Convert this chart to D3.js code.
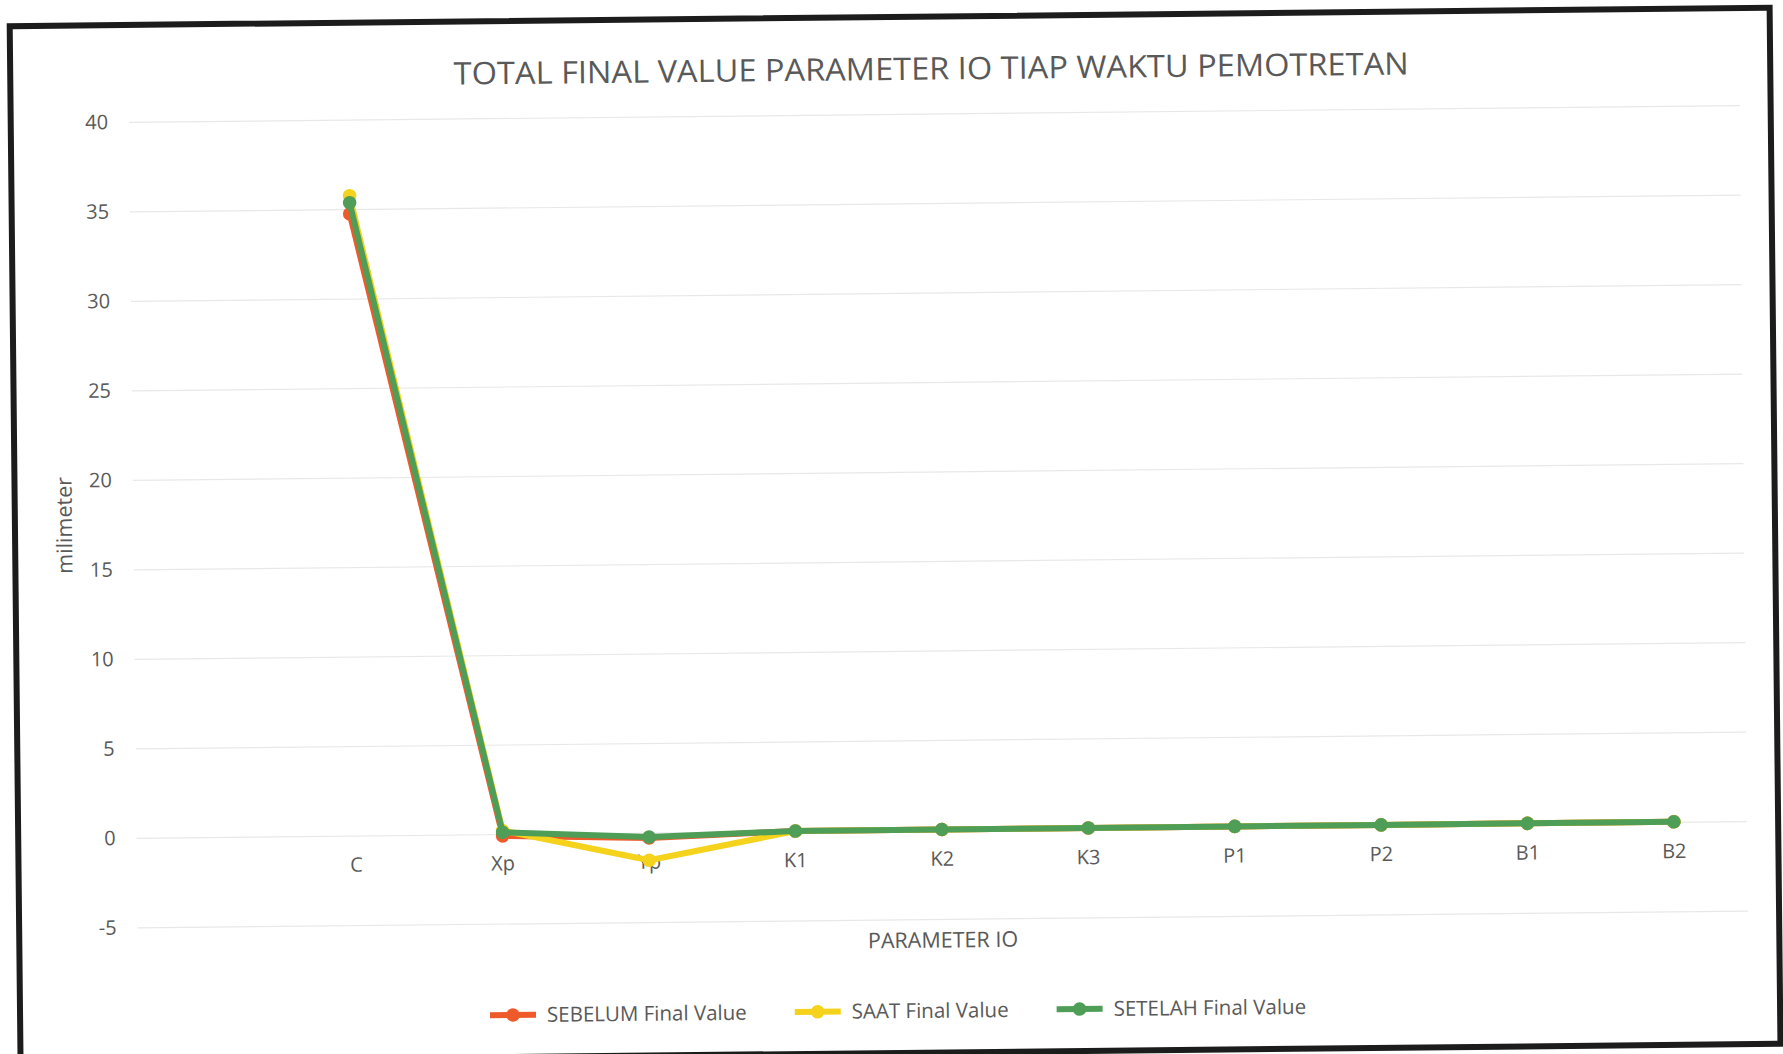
<!DOCTYPE html>
<html>
<head>
<meta charset="utf-8">
<script src="https://cdn.jsdelivr.net/npm/d3@7"></script>
<style>
  html, body { margin: 0; padding: 0; background: #ffffff; }
  svg { display: block; }
  text { font-family: "Open Sans", "Noto Sans", sans-serif; fill: #595959; }
</style>
</head>
<body>
<svg id="chart" width="1783" height="1054"></svg>
<script>
// Category slots on the horizontal axis (the first slot is left blank)
const categories = ["", "C", "Xp", "Yp", "K1", "K2", "K3", "P1", "P2", "B1", "B2"];

// Final values (millimetre) per interior-orientation parameter
const sebelum = [null, 34.74, -0.1, -0.3, 0, 0, 0, 0, 0, 0, 0];
const saat    = [null, 35.75, 0.2, -1.55, 0, 0, 0, 0, 0, 0, 0];
const setelah = [null, 35.36, 0.1, -0.25, 0, 0, 0, 0, 0, 0, 0];

const seriesNames = ["SEBELUM Final Value", "SAAT Final Value", "SETELAH Final Value"];
const seriesColors = ["#EE5A2A", "#F5D21C", "#4E9E57"];

const yTicks = [-5, 0, 5, 10, 15, 20, 25, 30, 35, 40];

const titleText = "TOTAL FINAL VALUE PARAMETER IO TIAP WAKTU PEMOTRETAN";
const xTitle = "PARAMETER IO";
const yTitle = "milimeter";

const W = 1783, H = 1054;
const plot = { left: 133.4, right: 1744, top: 114, bottom: 919.5 };

const svg = d3.select("#chart");
svg.append("rect").attr("width", W).attr("height", H).attr("fill", "#ffffff");

// whole sheet sits at a slight tilt
const root = svg.append("g").attr("transform", "rotate(-0.6, 891, 527)");

// outer frame
root.append("rect")
  .attr("x", 15).attr("y", 17).attr("width", 1760).attr("height", 1036)
  .attr("fill", "#ffffff").attr("stroke", "#1c1c1c").attr("stroke-width", 6);

const x = d3.scaleBand().domain(categories).range([plot.left, plot.right]);
const y = d3.scaleLinear().domain([-5, 40]).range([plot.bottom, plot.top]);

// horizontal gridlines
const grid = root.append("g").attr("transform", `translate(${plot.left},0)`)
  .call(d3.axisLeft(y).tickValues(yTicks).tickSize(-(plot.right - plot.left)).tickFormat(""));
grid.select(".domain").remove();
grid.selectAll(".tick line").attr("stroke", "#e8e8e8").attr("stroke-width", 1.2);

// value axis labels
const yAxis = root.append("g").attr("transform", `translate(${plot.left},0)`)
  .call(d3.axisLeft(y).tickValues(yTicks).tickSize(0).tickPadding(21).tickFormat(d => String(d)));
yAxis.select(".domain").remove();
yAxis.selectAll("text").attr("font-size", 20).attr("fill", "#595959")
  .style("font-family", '"Open Sans", sans-serif');

// category axis labels next to the zero line
const xAxis = root.append("g").attr("transform", `translate(0,${y(0)})`)
  .call(d3.axisBottom(x).tickSize(0).tickPadding(22));
xAxis.select(".domain").remove();
xAxis.selectAll("text").attr("font-size", 20).attr("fill", "#595959")
  .style("font-family", '"Open Sans", sans-serif');

// title
root.append("text")
  .attr("x", 936).attr("y", 80)
  .attr("text-anchor", "middle")
  .attr("font-size", 31)
  .attr("textLength", 955).attr("lengthAdjust", "spacingAndGlyphs")
  .text(titleText);

// axis titles
root.append("text")
  .attr("x", (plot.left + plot.right) / 2).attr("y", 948)
  .attr("text-anchor", "middle").attr("font-size", 21.5)
  .text(xTitle);

root.append("text")
  .attr("transform", `translate(72,${(plot.top + plot.bottom) / 2}) rotate(-90)`)
  .attr("text-anchor", "middle").attr("font-size", 21.5)
  .text(yTitle);

// series
const allSeries = [sebelum, saat, setelah];
const line = d3.line()
  .defined(d => d.v !== null)
  .x(d => x(d.c) + x.bandwidth() / 2)
  .y(d => y(d.v));

allSeries.forEach((vals, i) => {
  const pts = categories.map((c, k) => ({ c, v: vals[k] }));
  const g = root.append("g");
  g.append("path")
    .datum(pts)
    .attr("fill", "none")
    .attr("stroke", seriesColors[i])
    .attr("stroke-width", 6)
    .attr("stroke-linejoin", "round")
    .attr("stroke-linecap", "round")
    .attr("d", line);
  g.selectAll("circle")
    .data(pts.filter(d => d.v !== null))
    .join("circle")
    .attr("cx", d => x(d.c) + x.bandwidth() / 2)
    .attr("cy", d => y(d.v))
    .attr("r", 6.8)
    .attr("fill", seriesColors[i]);
});

// legend
const legend = root.append("g");
const swatch = 46, gapText = 11, gapItem = 48, legendY = 1011;
let cursor = 0;
seriesNames.forEach((name, i) => {
  const item = legend.append("g").attr("transform", `translate(${cursor},0)`);
  item.append("line")
    .attr("x1", 0).attr("x2", swatch).attr("y1", legendY).attr("y2", legendY)
    .attr("stroke", seriesColors[i]).attr("stroke-width", 6);
  item.append("circle")
    .attr("cx", swatch / 2).attr("cy", legendY).attr("r", 6.8)
    .attr("fill", seriesColors[i]);
  const t = item.append("text")
    .attr("x", swatch + gapText).attr("y", legendY).attr("dy", "0.35em")
    .attr("font-size", 20.5)
    .text(name);
  cursor += swatch + gapText + t.node().getComputedTextLength() + gapItem;
});
const legendWidth = cursor - gapItem;
legend.attr("transform", `translate(${893 - legendWidth / 2},0)`);
</script>
</body>
</html>
